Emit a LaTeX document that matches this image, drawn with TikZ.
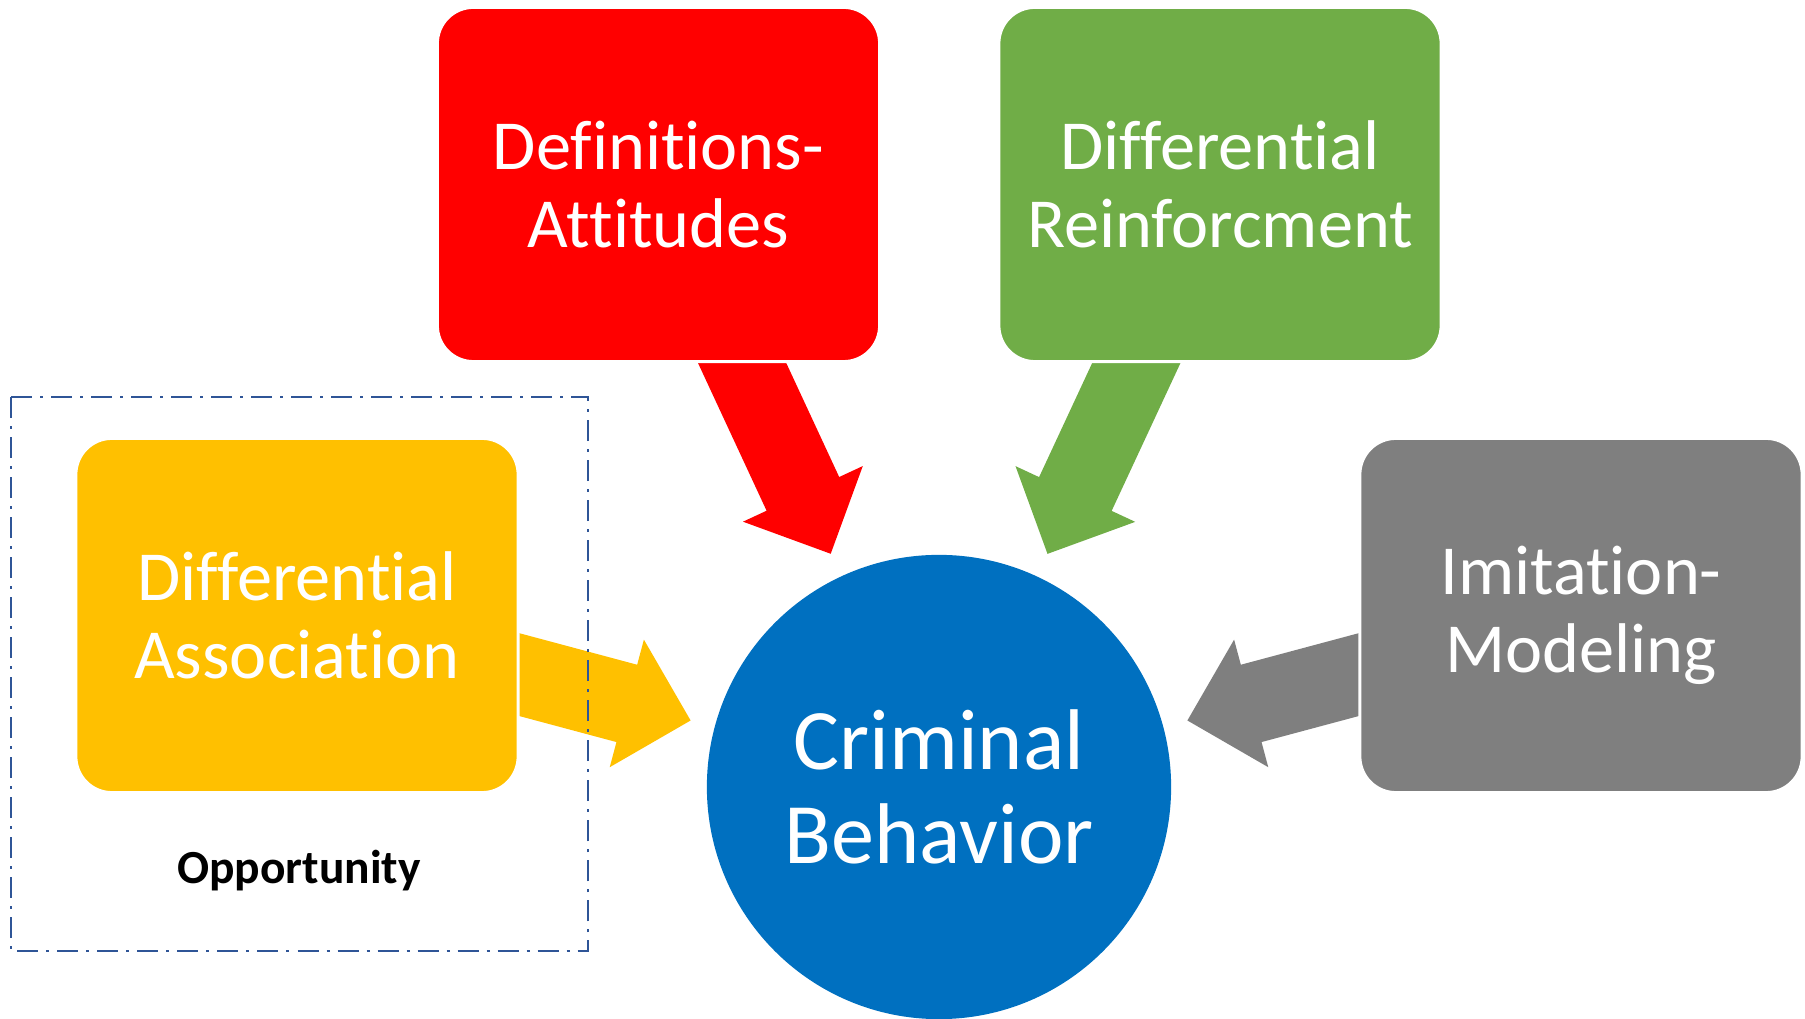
\documentclass[tikz,border=0pt]{standalone}
\usepackage{fontspec}
\setmainfont{Carlito}[Ligatures={NoCommon}]
\usetikzlibrary{calc,backgrounds}

\definecolor{defnred}{HTML}{FF0000}
\definecolor{reinfgreen}{HTML}{70AD47}
\definecolor{assocyellow}{HTML}{FFC000}
\definecolor{imitgray}{HTML}{7F7F7F}
\definecolor{crimblue}{HTML}{0070C0}
\definecolor{oppblue}{HTML}{2F5597}

\tikzset{
  factor/.style={rectangle, rounded corners=0.36cm, draw=white, line width=0.03cm,
    minimum width=4.42cm, minimum height=3.54cm, inner sep=0pt, align=center,
    text=white, font=\fontsize{20}{22}\selectfont},
  outcome/.style={circle, minimum size=4.64cm, inner sep=0pt, fill=crimblue,
    align=center, text=white, font=\fontsize{24.5}{26.7}\selectfont},
  oppline/.style={draw=oppblue, line width=0.026cm,
    dash pattern=on 0.21cm off 0.08cm on 0.03cm off 0.08cm},
}

% block arrow: colour, tail, tip
\newcommand{\fatarrow}[3]{%
  \coordinate (fa-b) at ($(#3)!0.66cm!(#2)$);
  \fill[#1] ($(#2)!0.4cm!90:(#3)$) -- ($(fa-b)!0.4cm!90:(#3)$)
    -- ($(fa-b)!0.66cm!90:(#3)$) -- (#3) -- ($(fa-b)!0.66cm!-90:(#3)$)
    -- ($(fa-b)!0.4cm!-90:(#3)$) -- ($(#2)!0.4cm!-90:(#3)$) -- cycle;
}

\begin{document}
\begin{tikzpicture}[x=0.01cm, y=-0.01cm]
    \useasboundingbox (0,0) rectangle (1805,1019);

    % Factors and outcome
    % ---------------------
    \node[factor, fill=defnred] (defn) at (658.5,184.5) {Definitions-\\Attitudes};
    \node[factor, fill=reinfgreen] (reinf) at (1220,184.5) {Differential\\Reinforcment};
    \node[factor, fill=assocyellow] (assoc) at (297,615.5) {Differential\\Association};
    \node[factor, fill=imitgray] (imit) at (1581,615.5) {Imitation-\\Modeling};
    \node[outcome] (crim) at (939,787) {Criminal\\Behavior};

    % Opportunity frame
    % ---------------------
    \draw[oppline] (11,397) rectangle (588,951);
    \node[font=\bfseries\fontsize{13.5}{16}\selectfont] (opp) at (299,871) {Opportunity};

    % Arrows into the circle
    % ---------------------
    \coordinate (defn-s) at ($(defn.south east)+(-158,-41)$);
    \coordinate (reinf-s) at ($(reinf.south west)+(158,-41)$);
    \coordinate (assoc-s) at ($(assoc.east)+(-40,48.5)$);
    \coordinate (imit-s) at ($(imit.west)+(40,48.5)$);
    \foreach \src in {defn, reinf, assoc, imit}
      \coordinate (\src-t) at ($(crim.center)!2.57cm!(\src-s)$);
    \begin{scope}[on background layer]
      \fatarrow{defnred}{defn-s}{defn-t}
      \fatarrow{reinfgreen}{reinf-s}{reinf-t}
      \fatarrow{assocyellow}{assoc-s}{assoc-t}
      \fatarrow{imitgray}{imit-s}{imit-t}
    \end{scope}
  \end{tikzpicture}
\end{document}
